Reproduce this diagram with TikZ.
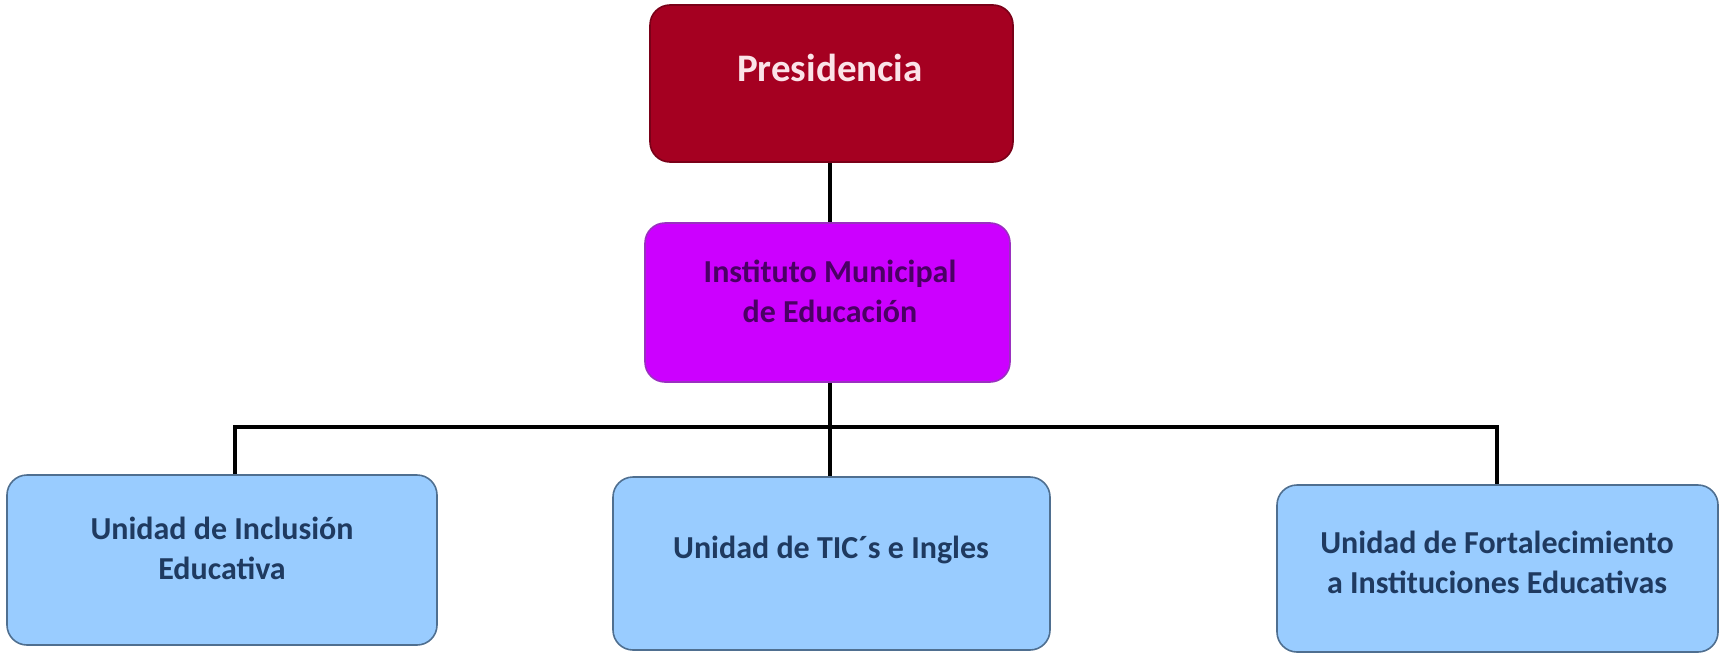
\documentclass[tikz,border=0pt]{standalone}
\usepackage{fontspec}
\setmainfont{Carlito}
\definecolor{presfill}{HTML}{A50021}
\definecolor{presdraw}{HTML}{7A0018}
\definecolor{presText}{HTML}{FBE3E8}
\definecolor{instfill}{HTML}{CC00FF}
\definecolor{instdraw}{HTML}{9A30C0}
\definecolor{instText}{HTML}{4A0064}
\definecolor{unitfill}{HTML}{99CCFF}
\definecolor{unitdraw}{HTML}{4F6F90}
\definecolor{unitText}{HTML}{1F3A60}
\tikzset{
  orgbox/.style={rectangle, rounded corners=10pt, inner sep=0pt, line width=0.8pt},
  presbox/.style={orgbox, fill=presfill, draw=presdraw},
  instbox/.style={orgbox, fill=instfill, draw=instdraw},
  unitbox/.style={orgbox, fill=unitfill, draw=unitdraw},
  lbl/.style={align=center, font=\bfseries\fontsize{16pt}{20pt}\selectfont},
  conn/.style={line width=2pt, black}
}
\begin{document}
\begin{tikzpicture}[x=0.5pt, y=-0.5pt]
\useasboundingbox (0,0) rectangle (1723,653);
% boxes
\node[presbox, minimum width=181.5pt, minimum height=78.5pt] (pres) at (831.5,83.5) {};
\node[instbox, minimum width=182.5pt, minimum height=79.5pt] (inst) at (827.5,302.5) {};
\node[unitbox, minimum width=215pt, minimum height=85pt] (left) at (222,560) {};
\node[unitbox, minimum width=218.5pt, minimum height=86.5pt] (mid) at (831.5,563.5) {};
\node[unitbox, minimum width=220.5pt, minimum height=83.5pt] (right) at (1497.5,568.5) {};
% texts
\node[lbl, text=presText, font=\bfseries\fontsize{19.5pt}{22pt}\selectfont] (tpres) at (830,68) {Presidencia};
\node[lbl, text=instText] (tinst) at (830,291) {Instituto Municipal\\de Educación};
\node[lbl, text=unitText] (tleft) at (222,548) {Unidad de Inclusión\\Educativa};
\node[lbl, text=unitText] (tmid) at (831,550) {Unidad de TIC´s e Ingles};
\node[lbl, text=unitText] (tright) at (1497,562) {Unidad de Fortalecimiento\\a Instituciones Educativas};
% connectors
\coordinate (bus) at (830,427);
\coordinate (busL) at (235,427);
\coordinate (busR) at (1497,427);
\draw[conn] (830,0 |- pres.south) -- (830,0 |- inst.north);
\draw[conn] (830,0 |- inst.south) -- (bus) -- (830,0 |- mid.north);
\draw[conn] (busL |- left.north) -- (busL) -- (busR) -- (busR |- right.north);
\end{tikzpicture}
\end{document}
